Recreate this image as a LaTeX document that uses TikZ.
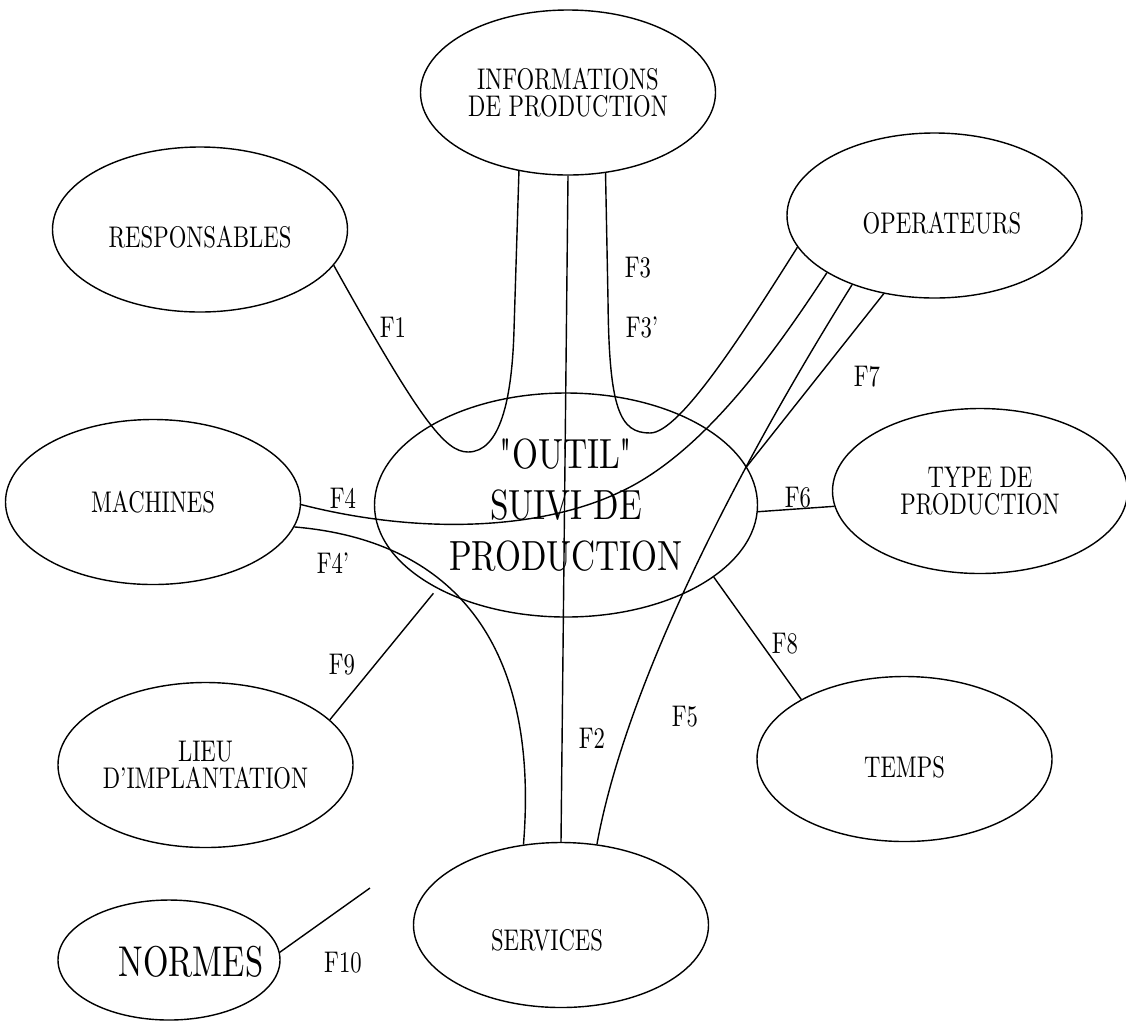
\documentclass[tikz,border=0pt]{standalone}
\usepackage{fontspec}
\setmainfont{lmroman10-regular.otf}[FakeStretch=0.76]
\newfontfamily\outilfont{lmroman10-regular.otf}[FakeStretch=0.79]
\usetikzlibrary{shapes.geometric}

\begin{document}
\begin{tikzpicture}[
        x=0.2mm, y=-0.2mm, line width=0.8pt,
        entity/.style={ellipse, draw, inner sep=0pt, minimum width=59mm, minimum height=33mm, align=center, font=\fontsize{17}{15.5}\selectfont},
        outil/.style={ellipse, draw, inner sep=0pt, minimum width=76.6mm, minimum height=44.8mm, align=center, font=\outilfont\fontsize{24}{29}\selectfont},
        normes/.style={ellipse, draw, inner sep=0pt, minimum width=44.4mm, minimum height=24mm, font=\fontsize{24.5}{25}\selectfont},
        flux/.style={inner sep=0pt, font=\fontsize{17}{15}\selectfont}
    ]
    \useasboundingbox (0,0) rectangle (1126,1021);

    % Ellipses
    \node[outil]  (outil)  at (566, 505)   {"OUTIL"\\SUIVI DE\\PRODUCTION};
    \node[entity] (info)   at (568, 92.5)  {INFORMATIONS\\DE PRODUCTION};
    \node[entity, text height=20pt, text depth=0pt] (resp) at (200, 229.5) {RESPONSABLES};
    \node[entity, text height=20pt, text depth=0pt] (oper) at (934.5, 215.5) {\hspace*{3mm}OPERATEURS};
    \node[entity] (mach)   at (153, 502)   {MACHINES};
    \node[entity] (type)   at (980, 491)   {TYPE DE\\PRODUCTION};
    \node[entity] (lieu)   at (205.5, 765) {LIEU\\D'IMPLANTATION};
    \node[entity, text height=20.5pt, text depth=0pt] (temps) at (904.5, 759) {TEMPS};
    \node[entity, text height=28.5pt, text depth=0pt] (serv)  at (561, 925) {SERVICES\hspace*{5.6mm}};
    \node[normes, text height=19pt, text depth=0pt] (normes) at (169, 960) {\makebox[0pt]{\hspace*{8.8mm}NORMES}};
    \coordinate (f10end) at (370, 888);

    % Liaisons
    \draw (resp.-15) .. controls (420,420) and (445,452) .. (468,452)
          .. controls (500,452) and (512,400) .. (514,330) -- (info.-122);
    \draw (info.-65) -- (608,300) .. controls (609,410) and (620,433) .. (650,433)
          .. controls (680,433) and (745,330) .. (oper.-167);
    \draw (info.south) -- (serv.north);
    \draw (mach.-1) .. controls (420,535) and (540,530) .. (620,492)
          .. controls (700,455) and (770,360) .. (oper.-152);
    \draw (mach.-10) .. controls (450,540) and (540,640) .. (serv.115);
    \draw (oper.-140) .. controls (730,480) and (625,690) .. (serv.66);
    \draw (oper.-123) -- (outil.12);
    \draw (outil.-2) -- (type.-174);
    \draw (outil.-26) -- (temps.150);
    \draw[shorten <=1.2mm] (outil.-147) -- (lieu.20);
    \draw (normes.4) -- (f10end);

    % Etiquettes
    \node[flux] (lf1)  at (393, 327) {F1};
    \node[flux] (lf2)  at (592, 738) {F2};
    \node[flux] (lf3)  at (638, 268) {F3};
    \node[flux] (lf3b) at (642, 327) {F3'};
    \node[flux] (lf4)  at (343, 498) {F4};
    \node[flux] (lf4b) at (333, 563) {F4'};
    \node[flux] (lf5)  at (685, 717) {F5};
    \node[flux] (lf6)  at (798, 498) {F6};
    \node[flux] (lf7)  at (867, 377) {F7};
    \node[flux] (lf8)  at (785, 644) {F8};
    \node[flux] (lf9)  at (342, 665) {F9};
    \node[flux] (lf10) at (343, 963) {F10};

\end{tikzpicture}
\end{document}
